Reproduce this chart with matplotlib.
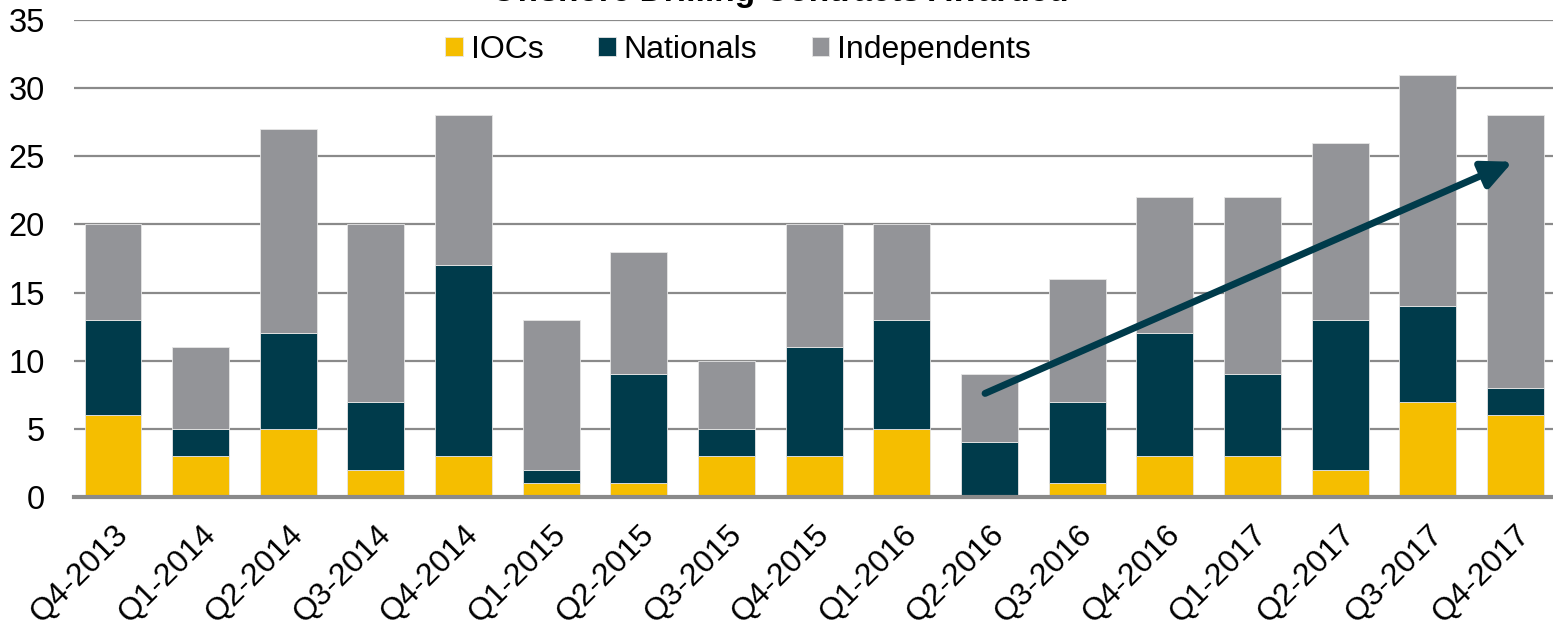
import numpy as np
import matplotlib.pyplot as plt

plt.rcParams['font.family'] = ['Liberation Sans', 'DejaVu Sans']

quarters = ['Q4-2013', 'Q1-2014', 'Q2-2014', 'Q3-2014', 'Q4-2014', 'Q1-2015',
            'Q2-2015', 'Q3-2015', 'Q4-2015', 'Q1-2016', 'Q2-2016', 'Q3-2016',
            'Q4-2016', 'Q1-2017', 'Q2-2017', 'Q3-2017', 'Q4-2017']
iocs = [6, 3, 5, 2, 3, 1, 1, 3, 3, 5, 0, 1, 3, 3, 2, 7, 6]
nationals = [7, 2, 7, 5, 14, 1, 8, 2, 8, 8, 4, 6, 9, 6, 11, 7, 2]
independents = [7, 6, 15, 13, 11, 11, 9, 5, 9, 7, 5, 9, 10, 13, 13, 17, 20]

c_ioc = '#F5BE00'
c_nat = '#003B4B'
c_ind = '#939498'

fig = plt.figure(figsize=(15.53, 6.26), dpi=100)
ax = fig.add_axes([74 / 1553, 1 - 497 / 626, 1 - 74 / 1553, 477 / 626])

x = np.arange(len(quarters))
iocs = np.array(iocs)
nationals = np.array(nationals)
independents = np.array(independents)
w = 0.65
ax.bar(x, iocs, w, color=c_ioc, edgecolor='#e6e6e6', linewidth=0.6, label='IOCs', zorder=3)
ax.bar(x, nationals, w, bottom=iocs, color=c_nat, edgecolor='#e6e6e6', linewidth=0.6,
       label='Nationals', zorder=3)
ax.bar(x, independents, w, bottom=iocs + nationals, color=c_ind, edgecolor='#e6e6e6',
       linewidth=0.6, label='Independents', zorder=3)

# trend arrow
ax.annotate('', xy=(15.97, 24.6), xytext=(9.95, 7.6),
            arrowprops=dict(arrowstyle='-|>,head_length=1.8,head_width=0.85',
                            color=c_nat, lw=5, shrinkA=0, shrinkB=0), zorder=5)

ax.set_xlim(-0.445, 16.43)
ax.set_ylim(0, 35)
ax.set_yticks(range(0, 36, 5))
ax.yaxis.grid(True, color='#8a8a8a', linewidth=1.6, zorder=0)
ax.set_axisbelow(True)
for s in ['left', 'right', 'top']:
    ax.spines[s].set_visible(False)
ax.spines['bottom'].set_color('#8a8a8a')
ax.spines['bottom'].set_linewidth(3)
ax.spines['bottom'].set_zorder(4)
ax.tick_params(axis='y', length=0, pad=21, labelsize=23.5)
ax.tick_params(axis='x', length=0, pad=16, labelsize=23)
ax.set_xticks(x)
ax.set_xticklabels(quarters, rotation=45, ha='right', rotation_mode='anchor')

ax.legend(loc='center', bbox_to_anchor=(738 / 1553, 1 - 50 / 626),
          bbox_transform=fig.transFigure, ncol=3, frameon=False, fontsize=23,
          handlelength=0.56, handleheight=0.56, handletextpad=0.25, columnspacing=1.7)

fig.text(0.502, 1 - 1.5 / 626, 'Offshore Drilling Contracts Awarded', ha='center',
         va='baseline', fontsize=24, fontweight='bold')

fig.savefig('out.png', dpi=100)
